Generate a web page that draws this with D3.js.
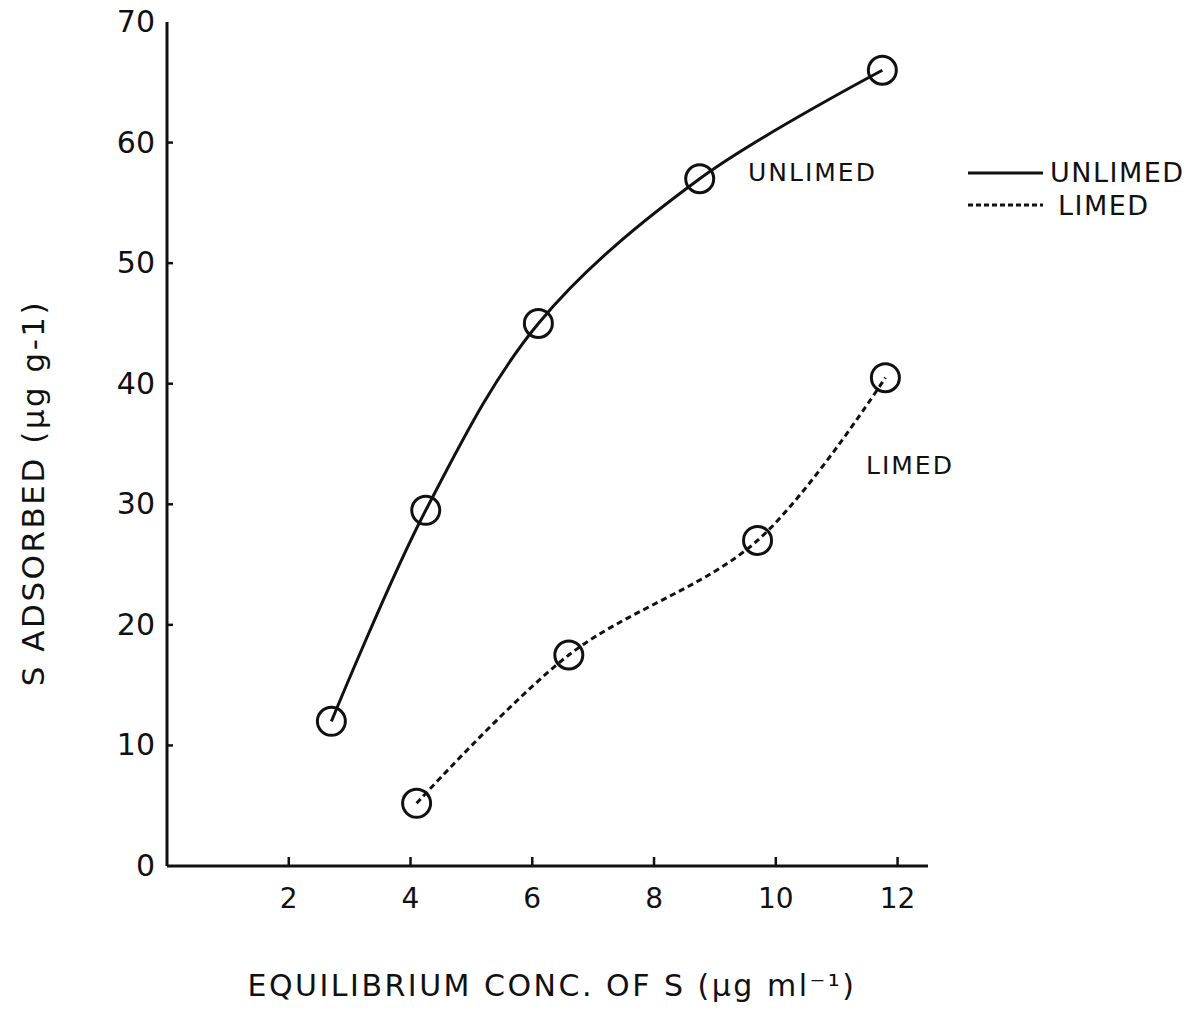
<!DOCTYPE html>
<html>
<head>
  <meta charset="UTF-8">
  <title>S adsorption isotherm</title>
  <style>
    body { margin: 0; background: #fff; }
    text { font-family: "DejaVu Sans", sans-serif; fill: #111; }
  </style>
</head>
<body>
<svg></svg>
<script src="https://d3js.org/d3.v7.min.js"></script>
<script>

let width = 1203, height = 1010;

// data
let unlimedX = [2.7, 4.25, 6.1, 8.75, 11.75];
let unlimedY = [12, 29.5, 45, 57, 66];
let limedX = [4.1, 6.6, 9.7, 11.8];
let limedY = [5.2, 17.5, 27, 40.5];
let xTicks = [2, 4, 6, 8, 10, 12];
let yTicks = [0, 10, 20, 30, 40, 50, 60, 70];

let svg = d3.select("svg")
    .attr("width", width)
    .attr("height", height);

let x = d3.scaleLinear().domain([0, 12.5]).range([167, 928]);
let y = d3.scaleLinear().domain([0, 70]).range([866, 22]);

// axes
svg.append("line")
    .attr("x1", x(0)).attr("x2", x(0))
    .attr("y1", y(70)).attr("y2", y(0))
    .attr("stroke", "#111").attr("stroke-width", 3);
svg.append("line")
    .attr("x1", x(0)).attr("x2", x(12.5))
    .attr("y1", y(0)).attr("y2", y(0))
    .attr("stroke", "#111").attr("stroke-width", 3);

// y ticks point inward
svg.selectAll(".ytick")
    .data(yTicks.filter(d => d > 0 && d < 70))
    .enter().append("line")
    .attr("x1", x(0)).attr("x2", x(0) + 6)
    .attr("y1", d => y(d)).attr("y2", d => y(d))
    .attr("stroke", "#111").attr("stroke-width", 2.5);

svg.selectAll(".ylab")
    .data(yTicks)
    .enter().append("text")
    .attr("x", x(0) - 12)
    .attr("y", d => y(d) + 10)
    .attr("text-anchor", "end")
    .style("font-size", "30px")
    .text(d => d);

// x ticks point upward
svg.selectAll(".xtick")
    .data(xTicks)
    .enter().append("line")
    .attr("x1", d => x(d)).attr("x2", d => x(d))
    .attr("y1", y(0)).attr("y2", y(0) - 9)
    .attr("stroke", "#111").attr("stroke-width", 2.5);

svg.selectAll(".xlab")
    .data(xTicks)
    .enter().append("text")
    .attr("x", d => x(d))
    .attr("y", y(0) + 42)
    .attr("text-anchor", "middle")
    .style("font-size", "28px")
    .text(d => d);

// axis titles
svg.append("text")
    .attr("x", 552).attr("y", 996)
    .attr("text-anchor", "middle")
    .style("font-size", "30px")
    .style("letter-spacing", "2.5px")
    .text("EQUILIBRIUM CONC. OF S (\u00B5g ml\u207B\u00B9)");

svg.append("text")
    .attr("transform", "translate(44,493) rotate(-90)")
    .attr("text-anchor", "middle")
    .style("font-size", "31px")
    .style("letter-spacing", "2.5px")
    .text("S ADSORBED (\u00B5g g-1)");

// curves
let line = d3.line()
    .x(d => x(d[0]))
    .y(d => y(d[1]))
    .curve(d3.curveCatmullRom.alpha(0.5));

let unlimed = unlimedX.map((d, i) => [d, unlimedY[i]]);
let limed = limedX.map((d, i) => [d, limedY[i]]);

svg.append("path")
    .datum(unlimed)
    .attr("d", line)
    .attr("fill", "none")
    .attr("stroke", "#111")
    .attr("stroke-width", 3);

svg.append("path")
    .datum(limed)
    .attr("d", line)
    .attr("fill", "none")
    .attr("stroke", "#111")
    .attr("stroke-width", 3)
    .attr("stroke-dasharray", "6,4");

// point markers
svg.selectAll(".pt")
    .data(unlimed.concat(limed))
    .enter().append("circle")
    .attr("cx", d => x(d[0]))
    .attr("cy", d => y(d[1]))
    .attr("r", 14)
    .attr("fill", "none")
    .attr("stroke", "#111")
    .attr("stroke-width", 3);

// curve labels
svg.append("text")
    .attr("x", 748).attr("y", 181)
    .style("font-size", "25px")
    .style("letter-spacing", "2px")
    .text("UNLIMED");
svg.append("text")
    .attr("x", 866).attr("y", 474)
    .style("font-size", "25px")
    .style("letter-spacing", "2px")
    .text("LIMED");

// legend
svg.append("line")
    .attr("x1", 968).attr("x2", 1043)
    .attr("y1", 173).attr("y2", 173)
    .attr("stroke", "#111").attr("stroke-width", 3);
svg.append("line")
    .attr("x1", 968).attr("x2", 1043)
    .attr("y1", 205).attr("y2", 205)
    .attr("stroke", "#111").attr("stroke-width", 3)
    .attr("stroke-dasharray", "5,3");
svg.append("text")
    .attr("x", 1050).attr("y", 182)
    .style("font-size", "27px")
    .style("letter-spacing", "1.5px")
    .text("UNLIMED");
svg.append("text")
    .attr("x", 1058).attr("y", 215)
    .style("font-size", "27px")
    .style("letter-spacing", "1.5px")
    .text("LIMED");

</script>
</body>
</html>
